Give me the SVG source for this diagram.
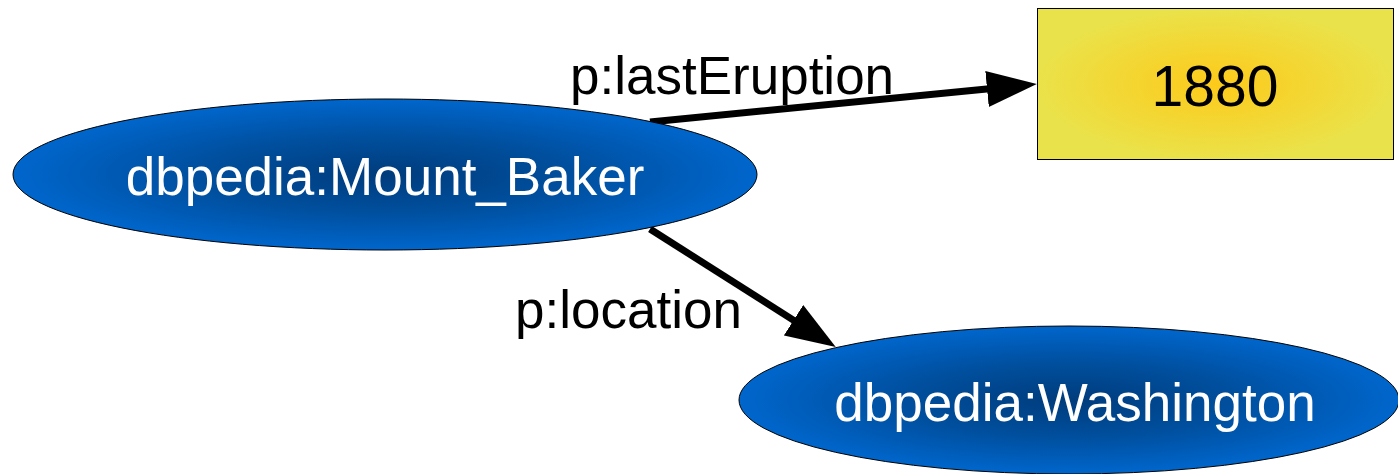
<svg xmlns="http://www.w3.org/2000/svg" width="1398" height="474" viewBox="0 0 1398 474">
<style>
.node-e{fill:url(#gBlue);stroke:#000;stroke-width:1}
.node-r{fill:url(#gYellow);stroke:#000;stroke-width:1}
.lbl{font-family:"Liberation Sans",Arial,sans-serif;font-size:53px;text-anchor:middle}
.w{fill:#fff}
.k{fill:#000}
.edge{stroke:#000;stroke-width:7;fill:none}
.el{font-family:"Liberation Sans",Arial,sans-serif;font-size:53px;fill:#000}
</style>
<defs>
<radialGradient id="gBlue" cx="50%" cy="50%" r="50%">
<stop offset="0" stop-color="#003c7c"/>
<stop offset="0.5" stop-color="#004f9e"/>
<stop offset="1" stop-color="#0066cc"/>
</radialGradient>
<radialGradient id="gYellow" cx="50%" cy="50%" r="50%">
<stop offset="0" stop-color="#fdca1a"/>
<stop offset="1" stop-color="#eae24a"/>
</radialGradient>
<marker id="arrow" markerUnits="userSpaceOnUse" markerWidth="52" markerHeight="36" refX="10" refY="18" orient="auto">
<path d="M0,0 L50,18 L0,36 z" fill="#000"/>
</marker>
</defs>
<g id="connectors">
<line class="edge" x1="650" y1="122" x2="997" y2="88" marker-end="url(#arrow)"/>
<line class="edge" x1="650" y1="229" x2="802" y2="325.6" marker-end="url(#arrow)"/>
<text class="el" x="570" y="94">p:lastEruption</text>
<text class="el" x="515" y="328">p:location</text>
</g>
<g id="node-mount-baker">
<ellipse class="node-e" cx="385" cy="174.5" rx="372" ry="75.5"/>
<text class="lbl w" x="385" y="195">dbpedia:Mount_Baker</text>
</g>
<g id="node-1880">
<rect class="node-r" x="1037.5" y="8.5" width="356" height="151"/>
<text class="lbl k" x="1215" y="106" style="font-size:57px">1880</text>
</g>
<g id="node-washington">
<ellipse class="node-e" cx="1069" cy="400" rx="330" ry="74"/>
<text class="lbl w" x="1075" y="421">dbpedia:Washington</text>
</g>
</svg>
